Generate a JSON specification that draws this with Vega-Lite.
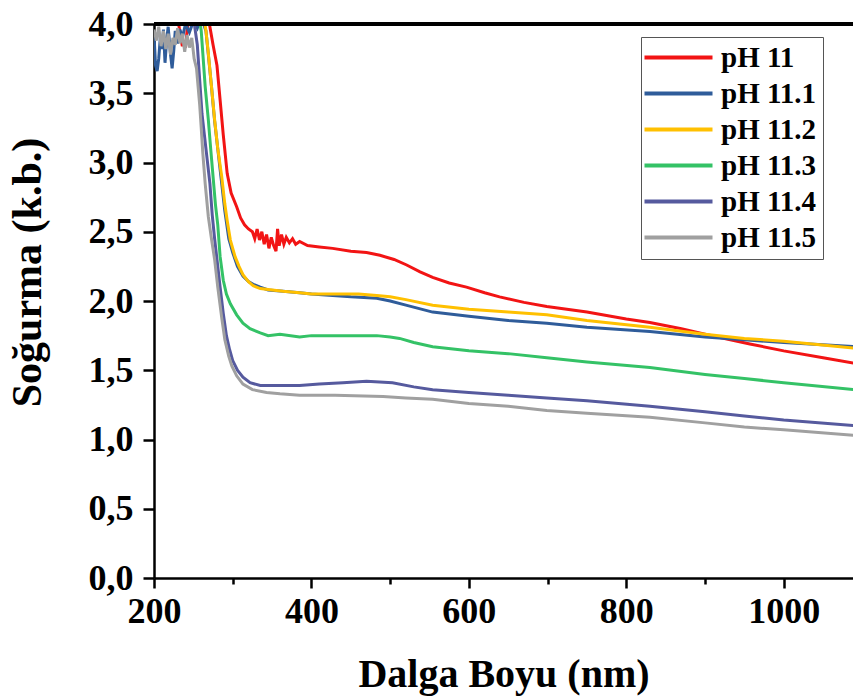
{
  "$schema": "https://vega.github.io/schema/vega-lite/v6.json",
  "width": 699,
  "height": 554,
  "autosize": {"type": "none"},
  "padding": {"left": 154, "top": 24, "right": 0, "bottom": 120},
  "background": "white",
  "config": {
    "view": {"stroke": null},
    "font": "Liberation Serif"
  },
  "data": {
    "values": [
      {"s":"pH 11","nm":200,"A":4.1},{"s":"pH 11","nm":230,"A":4.05},{"s":"pH 11","nm":234,"A":3.9},{"s":"pH 11","nm":236,"A":3.84},{"s":"pH 11","nm":238,"A":3.88},{"s":"pH 11","nm":240,"A":3.83},{"s":"pH 11","nm":242,"A":3.95},{"s":"pH 11","nm":245,"A":4.08},{"s":"pH 11","nm":260,"A":4.2},{"s":"pH 11","nm":266,"A":4.1},{"s":"pH 11","nm":271,"A":3.98},{"s":"pH 11","nm":275,"A":3.85},{"s":"pH 11","nm":280,"A":3.7},{"s":"pH 11","nm":284,"A":3.45},{"s":"pH 11","nm":288,"A":3.2},{"s":"pH 11","nm":293,"A":2.92},{"s":"pH 11","nm":298,"A":2.78},{"s":"pH 11","nm":305,"A":2.68},{"s":"pH 11","nm":310,"A":2.6},{"s":"pH 11","nm":315,"A":2.55},{"s":"pH 11","nm":320,"A":2.52},{"s":"pH 11","nm":325,"A":2.5},{"s":"pH 11","nm":328,"A":2.45},{"s":"pH 11","nm":331,"A":2.52},{"s":"pH 11","nm":334,"A":2.44},{"s":"pH 11","nm":337,"A":2.5},{"s":"pH 11","nm":340,"A":2.41},{"s":"pH 11","nm":343,"A":2.48},{"s":"pH 11","nm":346,"A":2.38},{"s":"pH 11","nm":349,"A":2.46},{"s":"pH 11","nm":352,"A":2.4},{"s":"pH 11","nm":355,"A":2.36},{"s":"pH 11","nm":357,"A":2.52},{"s":"pH 11","nm":359,"A":2.4},{"s":"pH 11","nm":362,"A":2.48},{"s":"pH 11","nm":365,"A":2.41},{"s":"pH 11","nm":368,"A":2.46},{"s":"pH 11","nm":372,"A":2.42},{"s":"pH 11","nm":376,"A":2.45},{"s":"pH 11","nm":380,"A":2.41},{"s":"pH 11","nm":385,"A":2.43},{"s":"pH 11","nm":395,"A":2.4},{"s":"pH 11","nm":410,"A":2.39},{"s":"pH 11","nm":427,"A":2.38},{"s":"pH 11","nm":450,"A":2.36},{"s":"pH 11","nm":470,"A":2.35},{"s":"pH 11","nm":487,"A":2.33},{"s":"pH 11","nm":505,"A":2.3},{"s":"pH 11","nm":521,"A":2.26},{"s":"pH 11","nm":538,"A":2.21},{"s":"pH 11","nm":554,"A":2.17},{"s":"pH 11","nm":575,"A":2.13},{"s":"pH 11","nm":597,"A":2.1},{"s":"pH 11","nm":620,"A":2.06},{"s":"pH 11","nm":639,"A":2.03},{"s":"pH 11","nm":670,"A":1.99},{"s":"pH 11","nm":699,"A":1.96},{"s":"pH 11","nm":750,"A":1.92},{"s":"pH 11","nm":800,"A":1.87},{"s":"pH 11","nm":830,"A":1.845},{"s":"pH 11","nm":870,"A":1.8},{"s":"pH 11","nm":900,"A":1.76},{"s":"pH 11","nm":957,"A":1.69},{"s":"pH 11","nm":1000,"A":1.64},{"s":"pH 11","nm":1050,"A":1.59},{"s":"pH 11","nm":1090,"A":1.55},

      {"s":"pH 11.1","nm":200,"A":3.92},{"s":"pH 11.1","nm":202,"A":3.7},{"s":"pH 11.1","nm":204,"A":3.66},{"s":"pH 11.1","nm":206,"A":3.75},{"s":"pH 11.1","nm":208,"A":3.9},{"s":"pH 11.1","nm":210,"A":3.82},{"s":"pH 11.1","nm":212,"A":3.96},{"s":"pH 11.1","nm":214,"A":3.72},{"s":"pH 11.1","nm":216,"A":3.88},{"s":"pH 11.1","nm":218,"A":3.98},{"s":"pH 11.1","nm":221,"A":3.78},{"s":"pH 11.1","nm":223,"A":3.68},{"s":"pH 11.1","nm":225,"A":3.8},{"s":"pH 11.1","nm":227,"A":3.95},{"s":"pH 11.1","nm":230,"A":3.86},{"s":"pH 11.1","nm":233,"A":3.96},{"s":"pH 11.1","nm":236,"A":3.9},{"s":"pH 11.1","nm":240,"A":4.0},{"s":"pH 11.1","nm":245,"A":3.94},{"s":"pH 11.1","nm":250,"A":4.02},{"s":"pH 11.1","nm":255,"A":3.97},{"s":"pH 11.1","nm":260,"A":4.05},{"s":"pH 11.1","nm":266,"A":3.95},{"s":"pH 11.1","nm":269,"A":3.78},{"s":"pH 11.1","nm":273,"A":3.55},{"s":"pH 11.1","nm":277,"A":3.3},{"s":"pH 11.1","nm":282,"A":3.05},{"s":"pH 11.1","nm":286,"A":2.85},{"s":"pH 11.1","nm":290,"A":2.65},{"s":"pH 11.1","nm":295,"A":2.45},{"s":"pH 11.1","nm":300,"A":2.35},{"s":"pH 11.1","nm":306,"A":2.25},{"s":"pH 11.1","nm":313,"A":2.18},{"s":"pH 11.1","nm":320,"A":2.14},{"s":"pH 11.1","nm":326,"A":2.12},{"s":"pH 11.1","nm":335,"A":2.1},{"s":"pH 11.1","nm":345,"A":2.08},{"s":"pH 11.1","nm":364,"A":2.07},{"s":"pH 11.1","nm":385,"A":2.06},{"s":"pH 11.1","nm":400,"A":2.05},{"s":"pH 11.1","nm":427,"A":2.04},{"s":"pH 11.1","nm":450,"A":2.03},{"s":"pH 11.1","nm":483,"A":2.02},{"s":"pH 11.1","nm":500,"A":2.0},{"s":"pH 11.1","nm":520,"A":1.97},{"s":"pH 11.1","nm":554,"A":1.92},{"s":"pH 11.1","nm":600,"A":1.89},{"s":"pH 11.1","nm":650,"A":1.86},{"s":"pH 11.1","nm":699,"A":1.84},{"s":"pH 11.1","nm":750,"A":1.81},{"s":"pH 11.1","nm":830,"A":1.78},{"s":"pH 11.1","nm":900,"A":1.74},{"s":"pH 11.1","nm":950,"A":1.72},{"s":"pH 11.1","nm":1000,"A":1.7},{"s":"pH 11.1","nm":1090,"A":1.67},

      {"s":"pH 11.2","nm":200,"A":4.15},{"s":"pH 11.2","nm":262,"A":4.1},{"s":"pH 11.2","nm":266,"A":3.95},{"s":"pH 11.2","nm":269,"A":3.79},{"s":"pH 11.2","nm":273,"A":3.55},{"s":"pH 11.2","nm":277,"A":3.31},{"s":"pH 11.2","nm":281,"A":3.1},{"s":"pH 11.2","nm":286,"A":2.9},{"s":"pH 11.2","nm":290,"A":2.7},{"s":"pH 11.2","nm":293,"A":2.58},{"s":"pH 11.2","nm":297,"A":2.44},{"s":"pH 11.2","nm":303,"A":2.32},{"s":"pH 11.2","nm":308,"A":2.25},{"s":"pH 11.2","nm":313,"A":2.19},{"s":"pH 11.2","nm":320,"A":2.14},{"s":"pH 11.2","nm":326,"A":2.11},{"s":"pH 11.2","nm":335,"A":2.09},{"s":"pH 11.2","nm":350,"A":2.08},{"s":"pH 11.2","nm":364,"A":2.07},{"s":"pH 11.2","nm":385,"A":2.06},{"s":"pH 11.2","nm":400,"A":2.05},{"s":"pH 11.2","nm":427,"A":2.05},{"s":"pH 11.2","nm":460,"A":2.05},{"s":"pH 11.2","nm":483,"A":2.04},{"s":"pH 11.2","nm":500,"A":2.03},{"s":"pH 11.2","nm":520,"A":2.01},{"s":"pH 11.2","nm":554,"A":1.97},{"s":"pH 11.2","nm":600,"A":1.94},{"s":"pH 11.2","nm":650,"A":1.92},{"s":"pH 11.2","nm":699,"A":1.9},{"s":"pH 11.2","nm":750,"A":1.86},{"s":"pH 11.2","nm":830,"A":1.81},{"s":"pH 11.2","nm":900,"A":1.76},{"s":"pH 11.2","nm":950,"A":1.73},{"s":"pH 11.2","nm":1000,"A":1.71},{"s":"pH 11.2","nm":1090,"A":1.66},

      {"s":"pH 11.3","nm":200,"A":4.15},{"s":"pH 11.3","nm":256,"A":4.1},{"s":"pH 11.3","nm":260,"A":3.95},{"s":"pH 11.3","nm":262,"A":3.79},{"s":"pH 11.3","nm":265,"A":3.55},{"s":"pH 11.3","nm":269,"A":3.31},{"s":"pH 11.3","nm":272,"A":3.1},{"s":"pH 11.3","nm":275,"A":2.9},{"s":"pH 11.3","nm":278,"A":2.7},{"s":"pH 11.3","nm":281,"A":2.55},{"s":"pH 11.3","nm":284,"A":2.32},{"s":"pH 11.3","nm":288,"A":2.15},{"s":"pH 11.3","nm":292,"A":2.05},{"s":"pH 11.3","nm":297,"A":1.98},{"s":"pH 11.3","nm":305,"A":1.9},{"s":"pH 11.3","nm":313,"A":1.84},{"s":"pH 11.3","nm":322,"A":1.8},{"s":"pH 11.3","nm":335,"A":1.77},{"s":"pH 11.3","nm":345,"A":1.75},{"s":"pH 11.3","nm":360,"A":1.76},{"s":"pH 11.3","nm":385,"A":1.74},{"s":"pH 11.3","nm":400,"A":1.75},{"s":"pH 11.3","nm":427,"A":1.75},{"s":"pH 11.3","nm":455,"A":1.75},{"s":"pH 11.3","nm":483,"A":1.75},{"s":"pH 11.3","nm":500,"A":1.74},{"s":"pH 11.3","nm":512,"A":1.73},{"s":"pH 11.3","nm":530,"A":1.7},{"s":"pH 11.3","nm":554,"A":1.67},{"s":"pH 11.3","nm":600,"A":1.64},{"s":"pH 11.3","nm":650,"A":1.62},{"s":"pH 11.3","nm":699,"A":1.59},{"s":"pH 11.3","nm":750,"A":1.56},{"s":"pH 11.3","nm":830,"A":1.52},{"s":"pH 11.3","nm":900,"A":1.47},{"s":"pH 11.3","nm":950,"A":1.44},{"s":"pH 11.3","nm":1000,"A":1.41},{"s":"pH 11.3","nm":1090,"A":1.36},

      {"s":"pH 11.4","nm":200,"A":4.1},{"s":"pH 11.4","nm":250,"A":4.05},{"s":"pH 11.4","nm":255,"A":3.85},{"s":"pH 11.4","nm":258,"A":3.6},{"s":"pH 11.4","nm":261,"A":3.35},{"s":"pH 11.4","nm":264,"A":3.2},{"s":"pH 11.4","nm":267,"A":3.05},{"s":"pH 11.4","nm":271,"A":2.85},{"s":"pH 11.4","nm":274,"A":2.62},{"s":"pH 11.4","nm":277,"A":2.45},{"s":"pH 11.4","nm":280,"A":2.3},{"s":"pH 11.4","nm":284,"A":2.1},{"s":"pH 11.4","nm":288,"A":1.91},{"s":"pH 11.4","nm":292,"A":1.75},{"s":"pH 11.4","nm":296,"A":1.65},{"s":"pH 11.4","nm":300,"A":1.57},{"s":"pH 11.4","nm":306,"A":1.5},{"s":"pH 11.4","nm":313,"A":1.45},{"s":"pH 11.4","nm":322,"A":1.41},{"s":"pH 11.4","nm":335,"A":1.39},{"s":"pH 11.4","nm":360,"A":1.39},{"s":"pH 11.4","nm":385,"A":1.39},{"s":"pH 11.4","nm":410,"A":1.4},{"s":"pH 11.4","nm":440,"A":1.41},{"s":"pH 11.4","nm":470,"A":1.42},{"s":"pH 11.4","nm":503,"A":1.41},{"s":"pH 11.4","nm":530,"A":1.38},{"s":"pH 11.4","nm":554,"A":1.36},{"s":"pH 11.4","nm":600,"A":1.34},{"s":"pH 11.4","nm":650,"A":1.32},{"s":"pH 11.4","nm":699,"A":1.3},{"s":"pH 11.4","nm":750,"A":1.28},{"s":"pH 11.4","nm":830,"A":1.24},{"s":"pH 11.4","nm":900,"A":1.2},{"s":"pH 11.4","nm":950,"A":1.17},{"s":"pH 11.4","nm":1000,"A":1.14},{"s":"pH 11.4","nm":1090,"A":1.1},

      {"s":"pH 11.5","nm":200,"A":3.96},{"s":"pH 11.5","nm":203,"A":3.88},{"s":"pH 11.5","nm":206,"A":3.98},{"s":"pH 11.5","nm":209,"A":3.84},{"s":"pH 11.5","nm":212,"A":3.95},{"s":"pH 11.5","nm":215,"A":3.82},{"s":"pH 11.5","nm":218,"A":3.93},{"s":"pH 11.5","nm":221,"A":3.78},{"s":"pH 11.5","nm":224,"A":3.9},{"s":"pH 11.5","nm":227,"A":3.85},{"s":"pH 11.5","nm":230,"A":3.97},{"s":"pH 11.5","nm":233,"A":3.86},{"s":"pH 11.5","nm":236,"A":3.93},{"s":"pH 11.5","nm":239,"A":3.8},{"s":"pH 11.5","nm":242,"A":3.92},{"s":"pH 11.5","nm":245,"A":3.83},{"s":"pH 11.5","nm":248,"A":3.9},{"s":"pH 11.5","nm":251,"A":3.75},{"s":"pH 11.5","nm":254,"A":3.68},{"s":"pH 11.5","nm":256,"A":3.55},{"s":"pH 11.5","nm":258,"A":3.42},{"s":"pH 11.5","nm":260,"A":3.25},{"s":"pH 11.5","nm":262,"A":3.07},{"s":"pH 11.5","nm":265,"A":2.85},{"s":"pH 11.5","nm":269,"A":2.61},{"s":"pH 11.5","nm":273,"A":2.45},{"s":"pH 11.5","nm":277,"A":2.3},{"s":"pH 11.5","nm":281,"A":2.1},{"s":"pH 11.5","nm":286,"A":1.88},{"s":"pH 11.5","nm":290,"A":1.72},{"s":"pH 11.5","nm":295,"A":1.6},{"s":"pH 11.5","nm":299,"A":1.53},{"s":"pH 11.5","nm":305,"A":1.46},{"s":"pH 11.5","nm":313,"A":1.4},{"s":"pH 11.5","nm":325,"A":1.36},{"s":"pH 11.5","nm":343,"A":1.34},{"s":"pH 11.5","nm":360,"A":1.33},{"s":"pH 11.5","nm":385,"A":1.32},{"s":"pH 11.5","nm":430,"A":1.32},{"s":"pH 11.5","nm":491,"A":1.31},{"s":"pH 11.5","nm":520,"A":1.3},{"s":"pH 11.5","nm":554,"A":1.29},{"s":"pH 11.5","nm":600,"A":1.26},{"s":"pH 11.5","nm":650,"A":1.24},{"s":"pH 11.5","nm":699,"A":1.21},{"s":"pH 11.5","nm":750,"A":1.19},{"s":"pH 11.5","nm":830,"A":1.16},{"s":"pH 11.5","nm":900,"A":1.12},{"s":"pH 11.5","nm":950,"A":1.09},{"s":"pH 11.5","nm":1000,"A":1.07},{"s":"pH 11.5","nm":1090,"A":1.03}
    ]
  },
  "layer": [
    {
      "mark": {"type": "line", "clip": true, "strokeWidth": 3, "interpolate": "linear"},
      "encoding": {
        "x": {
          "field": "nm", "type": "quantitative",
          "scale": {"domain": [200, 1088], "nice": false, "zero": false},
          "axis": {
            "values": [200, 300, 400, 500, 600, 700, 800, 900, 1000],
            "labelExpr": "datum.value % 200 === 0 ? datum.label : ''",
            "format": "d",
            "grid": false,
            "domainColor": "#000", "domainWidth": 2.5,
            "tickColor": "#000", "tickWidth": 2.5,
            "tickSize": {"condition": {"test": "datum.value % 200 === 0", "value": 10}, "value": 6},
            "labelFont": "Liberation Serif", "labelFontWeight": "bold", "labelFontSize": 36, "labelColor": "#000",
            "labelPadding": 6, "labelFlush": false, "labelOverlap": false,
            "title": "Dalga Boyu (nm)",
            "titleFont": "Liberation Serif", "titleFontWeight": "bold", "titleFontSize": 40, "titleColor": "#000",
            "titleBaseline": "alphabetic", "titleY": 108
          }
        },
        "y": {
          "field": "A", "type": "quantitative",
          "scale": {"domain": [0, 4], "nice": false, "zero": false},
          "axis": {
            "values": [0, 0.25, 0.5, 0.75, 1, 1.25, 1.5, 1.75, 2, 2.25, 2.5, 2.75, 3, 3.25, 3.5, 3.75, 4],
            "labelExpr": "(datum.value * 2) % 1 === 0 ? replace(format(datum.value, '.1f'), '.', ',') : ''",
            "grid": false,
            "domainColor": "#000", "domainWidth": 2.5,
            "tickColor": "#000", "tickWidth": 2.5,
            "tickSize": {"condition": {"test": "(datum.value * 2) % 1 === 0", "value": 11}, "value": 6},
            "labelFont": "Liberation Serif", "labelFontWeight": "bold", "labelFontSize": 36, "labelColor": "#000",
            "labelPadding": 10, "labelFlush": false, "labelOverlap": false,
            "title": "Soğurma (k.b.)",
            "titleFont": "Liberation Serif", "titleFontWeight": "bold", "titleFontSize": 42, "titleColor": "#000",
            "titleBaseline": "alphabetic", "titleX": -114, "titleY": 248
          }
        },
        "color": {
          "field": "s", "type": "nominal",
          "scale": {
            "domain": ["pH 11", "pH 11.1", "pH 11.2", "pH 11.3", "pH 11.4", "pH 11.5"],
            "range": ["#F21414", "#2F5C9A", "#FFC000", "#34C266", "#565A9E", "#A0A0A0"]
          },
          "legend": {
            "orient": "none", "legendX": 487, "legendY": 13,
            "title": null,
            "symbolType": "M-4,0H4", "symbolSize": 289, "symbolStrokeWidth": 4,
            "symbolOffset": 17,
            "labelFont": "Liberation Serif", "labelFontWeight": "bold", "labelFontSize": 29, "labelColor": "#000",
            "labelOffset": 28,
            "strokeColor": "#555", "fillColor": "white", "padding": 6, "rowPadding": 6
          }
        }
      }
    },
    {
      "mark": {"type": "rule", "color": "#000", "strokeWidth": 2.5},
      "encoding": {"y": {"datum": 4}}
    }
  ]
}
